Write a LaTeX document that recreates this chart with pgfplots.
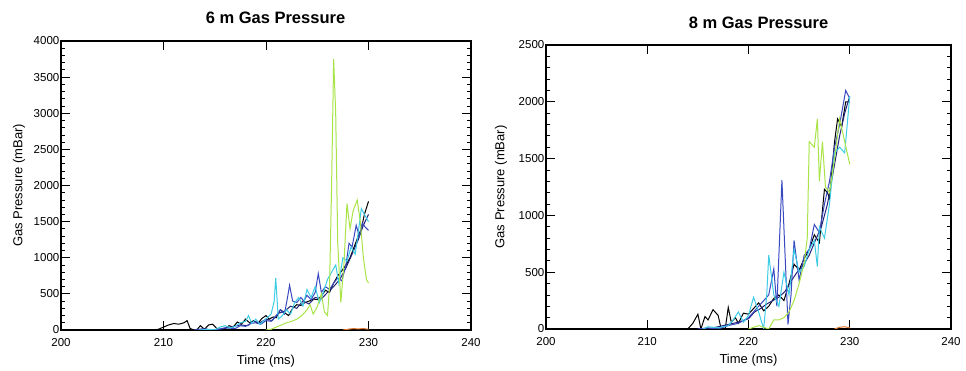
\documentclass[border=0pt]{standalone}
\usepackage{pgfplots}
\pgfplotsset{compat=1.18}
\usepackage{fontspec}
\setmainfont{Liberation Sans}
\definecolor{cnavy}{HTML}{22227A}
\definecolor{cblue}{HTML}{3848C0}
\definecolor{ccyan}{HTML}{3CCCE6}
\definecolor{clime}{HTML}{A8E446}
\definecolor{corange}{HTML}{E07A30}
\pgfplotsset{
  gp/.style={
    scale only axis,
    anchor=south west,
    xmin=200, xmax=240,
    xtick={200,210,220,230,240},
    ymin=0,
    minor y tick num=4,
    tick align=inside,
    major tick length=9pt,
    minor tick length=4pt,
    every tick/.style={black, line width=0.8pt},
    axis line style={line width=1.7pt},
    /pgf/number format/assume math mode=true,
    /pgf/number format/1000 sep={},
    tick label style={font=\fontsize{11.5}{12}\selectfont},
    label style={font=\fontsize{13}{14}\selectfont},
    title style={font=\fontsize{16.5}{18}\bfseries, anchor=center},
    yticklabel style={inner sep=1.5pt},
    xticklabel style={yshift=-5pt},
    xlabel={Time (ms)},
    ylabel={Gas Pressure (mBar)},
    every axis plot/.append style={line width=1pt, no marks},
  }
}
\begin{document}
\begin{tikzpicture}
\begin{axis}[gp, at={(0pt,0pt)}, width=410pt, height=289pt,
  ymax=4000, ytick={0,500,...,4000},
  title={6 m Gas Pressure},
  title style={at={([xshift=9.5pt,yshift=17pt]axis description cs:0.5,1)}},
  xlabel style={at={([yshift=-31pt]axis description cs:0.5,0)}, anchor=center},
  ylabel style={at={([xshift=-42pt]axis description cs:0,0.5)}, anchor=center},
]
\addplot[black] coordinates {(200,0)(209,0)(209.5,10)(210,40)(210.5,70)(211,90)(211.5,80)(212,100)(212.3,130)(212.6,20)(213,0)(213.3,10)(213.6,60)(214,10)(214.4,70)(214.8,80)(215.2,20)(215.6,0)(216,20)(216.4,60)(216.8,40)(217.2,110)(217.6,80)(218,150)(218.4,100)(218.8,130)(219.2,90)(219.6,160)(220,200)(220.3,150)(220.7,180)(221,170)(221.4,280)(221.8,240)(222.2,200)(222.6,300)(223,350)(223.4,340)(223.8,380)(224.2,400)(224.6,430)(225,420)(225.4,470)(225.8,550)(226.2,520)(226.6,650)(227,750)(227.4,820)(227.8,900)(228.2,1000)(228.6,1150)(229,1300)(229.3,1400)(229.6,1600)(230,1780)};
\addplot[cnavy] coordinates {(213,0)(214,20)(214.5,0)(215.5,10)(216.5,40)(217.5,70)(218.2,60)(218.8,120)(219.4,100)(220,150)(220.6,130)(221.2,230)(221.8,260)(222.4,330)(223,300)(223.6,400)(224.2,360)(224.8,450)(225.4,430)(226,520)(226.6,600)(227.2,700)(227.8,860)(228.4,1050)(229,1250)(229.5,1450)(230,1600)};
\addplot[cblue] coordinates {(213,0)(214,10)(215,0)(216,30)(217,20)(217.5,60)(218,50)(218.5,90)(219,100)(219.5,80)(220,130)(220.5,120)(221,200)(221.4,280)(221.8,220)(222.1,450)(222.3,620)(222.6,400)(223,380)(223.4,450)(223.7,400)(224,480)(224.4,420)(224.8,520)(225.1,780)(225.4,520)(225.8,600)(226.2,560)(226.6,650)(227,720)(227.4,680)(227.8,900)(228.1,1200)(228.4,1150)(228.8,1450)(229.1,1300)(229.4,1480)(229.7,1420)(230,1380)};
\addplot[ccyan] coordinates {(213.5,0)(214.5,10)(215,0)(215.5,40)(216,60)(216.5,30)(217,50)(217.5,100)(218,120)(218.3,200)(218.6,90)(219,150)(219.4,80)(219.8,130)(220.2,180)(220.5,220)(220.8,400)(220.95,720)(221.2,150)(221.6,200)(222,280)(222.4,220)(222.8,380)(223.2,450)(223.6,330)(224,560)(224.4,450)(224.8,600)(225.2,380)(225.6,520)(226,700)(226.4,800)(226.8,900)(227.1,650)(227.5,1000)(227.9,950)(228.3,1150)(228.7,1050)(229,1350)(229.3,1680)(229.6,1600)(230,1500)};
\addplot[clime] coordinates {(220,0)(220.5,10)(221,40)(221.5,70)(222,100)(222.5,120)(223,150)(223.5,200)(224,280)(224.3,350)(224.6,220)(225,320)(225.4,500)(225.7,250)(226,200)(226.2,600)(226.4,2000)(226.6,3750)(226.8,3000)(227,1200)(227.3,380)(227.6,900)(227.9,1750)(228.2,1400)(228.5,1650)(228.9,1800)(229.2,1500)(229.5,1000)(229.8,700)(230,650)};
\addplot[corange] coordinates {(227.5,0)(228,10)(228.5,20)(229,15)(229.5,20)(230,10)};
\end{axis}
\begin{axis}[gp, at={(485pt,1pt)}, width=405pt, height=284pt,
  ymax=2500, ytick={0,500,...,2500},
  title={8 m Gas Pressure},
  title style={at={([xshift=10pt,yshift=16pt]axis description cs:0.5,1)}},
  xlabel style={at={([yshift=-31pt]axis description cs:0.5,0)}, anchor=center},
  ylabel style={at={([xshift=-45pt]axis description cs:0,0.5)}, anchor=center},
]
\addplot[black] coordinates {(200,0)(214,0)(214.5,50)(215,130)(215.3,0)(215.7,110)(216,80)(216.5,170)(217,120)(217.3,0)(217.7,0)(218,190)(218.3,60)(218.7,100)(219,50)(219.5,140)(220,130)(220.5,180)(221,230)(221.5,160)(222,200)(222.5,270)(223,300)(223.5,250)(224,400)(224.5,570)(225,520)(225.5,620)(226,700)(226.5,830)(227,760)(227.5,1230)(227.8,1200)(228,1150)(228.5,1650)(228.8,1850)(229.2,1780)(229.6,2000)(230,2000)};
\addplot[cnavy] coordinates {(215,0)(216,0)(217,20)(218,40)(219,60)(220,90)(220.6,150)(221.2,180)(221.8,220)(222.4,250)(223,280)(223.6,330)(224.2,420)(224.8,500)(225.4,560)(226,650)(226.6,780)(227.2,900)(227.8,1100)(228.4,1400)(229,1700)(229.5,1900)(230,2050)};
\addplot[cblue] coordinates {(215,0)(216,10)(217,0)(218,30)(219,50)(220,100)(221,200)(222,300)(222.5,530)(222.8,200)(223.3,1310)(223.9,40)(224.2,300)(224.5,780)(225,430)(225.5,650)(226,700)(226.5,920)(227,850)(227.5,1100)(228,1300)(228.5,1600)(229,1800)(229.6,2100)(230,2030)};
\addplot[ccyan] coordinates {(215.5,0)(216,20)(217,10)(218,30)(218.5,80)(219,150)(219.5,60)(220,120)(220.5,280)(221,150)(221.5,0)(221.8,300)(222,650)(222.5,300)(223,200)(223.5,500)(224,300)(224.5,700)(225,500)(225.5,550)(226,700)(226.5,780)(226.8,550)(227,900)(227.5,800)(228,1100)(228.5,1550)(229,1600)(229.5,1550)(230,2050)};
\addplot[clime] coordinates {(220,0)(221,30)(222,0)(222.5,80)(223,80)(223.5,100)(224,150)(224.5,250)(225,400)(225.5,580)(225.8,800)(226,1650)(226.5,1600)(226.8,1850)(227,1300)(227.3,1650)(227.6,1250)(228,1200)(228.5,1500)(229,1850)(229.5,1650)(230,1450)};
\addplot[corange] coordinates {(228.5,0)(229,15)(229.5,20)(230,10)};
\end{axis}
\pgfresetboundingbox
\path[use as bounding box] (-61pt,-41pt) rectangle (905pt,330pt);
\end{tikzpicture}
\end{document}
